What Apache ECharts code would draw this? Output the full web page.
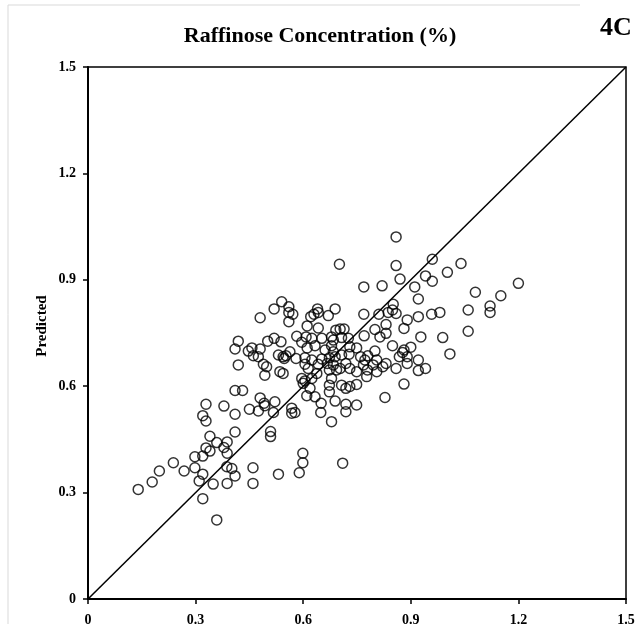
<!DOCTYPE html>
<html><head><meta charset="utf-8">
<script src="https://cdn.jsdelivr.net/npm/echarts@6/dist/echarts.min.js"></script>
<style>html,body{margin:0;padding:0;background:#fff}#c{width:640px;height:624px}</style>
</head><body><div id="c"></div><script>
const chartTitle = 'Raffinose Concentration (%)';
const panelLabel = '4C';
const yAxisName = 'Predicted';
const axisMin = 0, axisMax = 1.5, axisStep = 0.3;
const identityLine = [[0, 0], [1.5, 1.5]];

const actual = [
  0.140,0.179,0.199,0.238,0.268,0.298,0.298,0.320,0.329,0.340,0.329,0.359,0.340,0.379,0.388,0.410,0.388,0.387,0.401,0.410,0.388,0.349,0.310,0.320,0.320,0.359,0.460,0.460,
  0.509,0.509,0.679,0.599,0.599,0.589,0.531,0.710,0.419,0.410,0.447,0.457,0.461,0.419,0.410,0.431,0.329,0.379,0.410,0.450,0.320,
  0.701,0.769,0.820,0.480,0.519,0.540,0.560,0.560,0.571,0.560,0.611,0.621,0.630,0.640,0.642,0.670,0.689,0.769,0.811,0.642,0.691,0.703,0.714,0.800,
  0.859,0.960,1.040,0.859,0.870,0.941,0.960,1.002,0.911,0.921,1.200,1.080,1.151,0.851,0.849,0.859,0.837,0.921,0.958,0.981,1.060,1.121,1.121,0.890,0.831,0.881,1.060,
  0.831,0.814,0.928,0.989,0.849,0.900,0.881,0.877,0.868,0.890,1.009,0.921,0.831,0.822,0.890,0.859,0.921,0.941,0.881,0.828,
  0.582,0.608,0.624,0.652,0.679,0.684,0.707,0.726,0.770,0.501,0.519,0.538,0.480,0.475,0.596,0.611,0.633,0.661,0.679,0.684,0.730,0.749,0.531,0.544,0.552,0.563,0.547,0.580,0.605,0.624,0.652,0.673,0.689,0.707,0.728,0.760,0.780,0.800,0.805,0.772,
  0.489,0.498,0.493,0.535,0.544,0.605,0.614,0.642,0.638,0.667,0.673,0.684,0.693,0.703,0.719,0.730,0.749,0.768,0.779,0.795,0.805,0.596,0.605,0.600,0.624,0.679,0.673,0.673,0.707,0.719,0.730,0.749,0.777,0.619,0.610,0.633,0.650,0.689,0.719,0.749,0.719,0.480,0.491,0.493,0.521,0.475,0.517,0.568,0.577,0.568,0.649
];
const predicted = [
  0.309,0.330,0.361,0.384,0.361,0.401,0.370,0.403,0.426,0.459,0.502,0.441,0.417,0.427,0.443,0.471,0.411,0.373,0.368,0.347,0.326,0.324,0.333,0.352,0.283,0.223,0.370,0.326,
  0.472,0.458,0.500,0.411,0.384,0.356,0.352,0.383,0.727,0.705,0.699,0.708,0.686,0.660,0.588,0.588,0.549,0.544,0.521,0.535,0.517,
  0.944,0.880,0.883,0.793,0.818,0.838,0.824,0.808,0.803,0.782,0.770,0.796,0.803,0.818,0.808,0.799,0.818,0.803,0.803,0.764,0.758,0.761,0.761,0.760,
  1.021,0.958,0.946,0.940,0.902,0.911,0.896,0.921,0.880,0.846,0.890,0.865,0.855,0.831,0.815,0.805,0.808,0.796,0.803,0.808,0.815,0.826,0.808,0.787,0.774,0.763,0.755,
  0.749,0.739,0.739,0.737,0.714,0.710,0.702,0.695,0.683,0.683,0.691,0.674,0.664,0.655,0.664,0.650,0.644,0.650,0.606,0.568,
  0.741,0.739,0.735,0.735,0.739,0.730,0.737,0.735,0.742,0.727,0.735,0.725,0.705,0.683,0.724,0.708,0.714,0.702,0.714,0.697,0.711,0.708,0.688,0.683,0.686,0.697,0.678,0.678,0.680,0.674,0.677,0.680,0.683,0.688,0.690,0.683,0.686,0.699,0.674,0.674,
  0.662,0.655,0.631,0.641,0.636,0.662,0.650,0.662,0.636,0.664,0.646,0.660,0.646,0.650,0.664,0.650,0.641,0.660,0.646,0.660,0.641,0.622,0.615,0.608,0.622,0.622,0.603,0.584,0.603,0.594,0.599,0.605,0.627,0.594,0.573,0.570,0.552,0.558,0.549,0.547,0.528,0.567,0.552,0.545,0.556,0.530,0.526,0.538,0.526,0.524,0.526
];

const points = actual.map((a, i) => [a, predicted[i]]);
const serif = '"Liberation Serif", "Times New Roman", serif';
const fmt = v => (v === 0 ? '0' : v.toFixed(1));

const chart = echarts.init(document.getElementById('c'), null, {renderer: 'canvas'});
const axisCommon = {
  type: 'value', min: axisMin, max: axisMax, interval: axisStep,
  splitLine: {show: false},
  axisLine: {show: true, onZero: false, lineStyle: {color: '#000', width: 2}},
  axisTick: {show: true, inside: false, length: 5, lineStyle: {color: '#000', width: 1.5}},
  axisLabel: {formatter: fmt, color: '#000', fontFamily: serif, fontWeight: 'bold', fontSize: 14}
};
chart.setOption({
  animation: false,
  backgroundColor: '#fff',
  grid: {left: 88, right: 14, top: 67, bottom: 25, show: true, borderColor: '#000', borderWidth: 1.5,
         backgroundColor: 'transparent', containLabel: false, outerBoundsMode: 'none'},
  xAxis: Object.assign({}, axisCommon, {axisLabel: Object.assign({}, axisCommon.axisLabel, {margin: 14})}),
  yAxis: Object.assign({}, axisCommon, {axisLabel: Object.assign({}, axisCommon.axisLabel, {margin: 12})}),
  graphic: [
    {type: 'line', shape: {x1: 8, y1: 5, x2: 580, y2: 5}, style: {stroke: '#d9d9d9', lineWidth: 1}, silent: true},
    {type: 'line', shape: {x1: 8, y1: 5, x2: 8, y2: 624}, style: {stroke: '#d9d9d9', lineWidth: 1}, silent: true},
    {type: 'text', x: 320, y: 36, style: {text: chartTitle, font: 'bold 22px ' + serif, fill: '#000', textAlign: 'center', textVerticalAlign: 'middle'}},
    {type: 'text', x: 616, y: 28, style: {text: panelLabel, font: 'bold 26px ' + serif, fill: '#000', textAlign: 'center', textVerticalAlign: 'middle'}},
    {type: 'text', x: 42, y: 326, rotation: Math.PI / 2, style: {text: yAxisName, font: 'bold 15px ' + serif, fill: '#000', textAlign: 'center', textVerticalAlign: 'middle'}}
  ],
  series: [
    {type: 'line', data: identityLine, symbol: 'none', lineStyle: {color: '#000', width: 1.5}, silent: true, z: 1},
    {type: 'scatter', data: points, symbol: 'circle', symbolSize: 10,
     itemStyle: {color: 'rgba(0,0,0,0)', borderColor: '#000', borderWidth: 1.5}, z: 2}
  ]
});
</script></body></html>
